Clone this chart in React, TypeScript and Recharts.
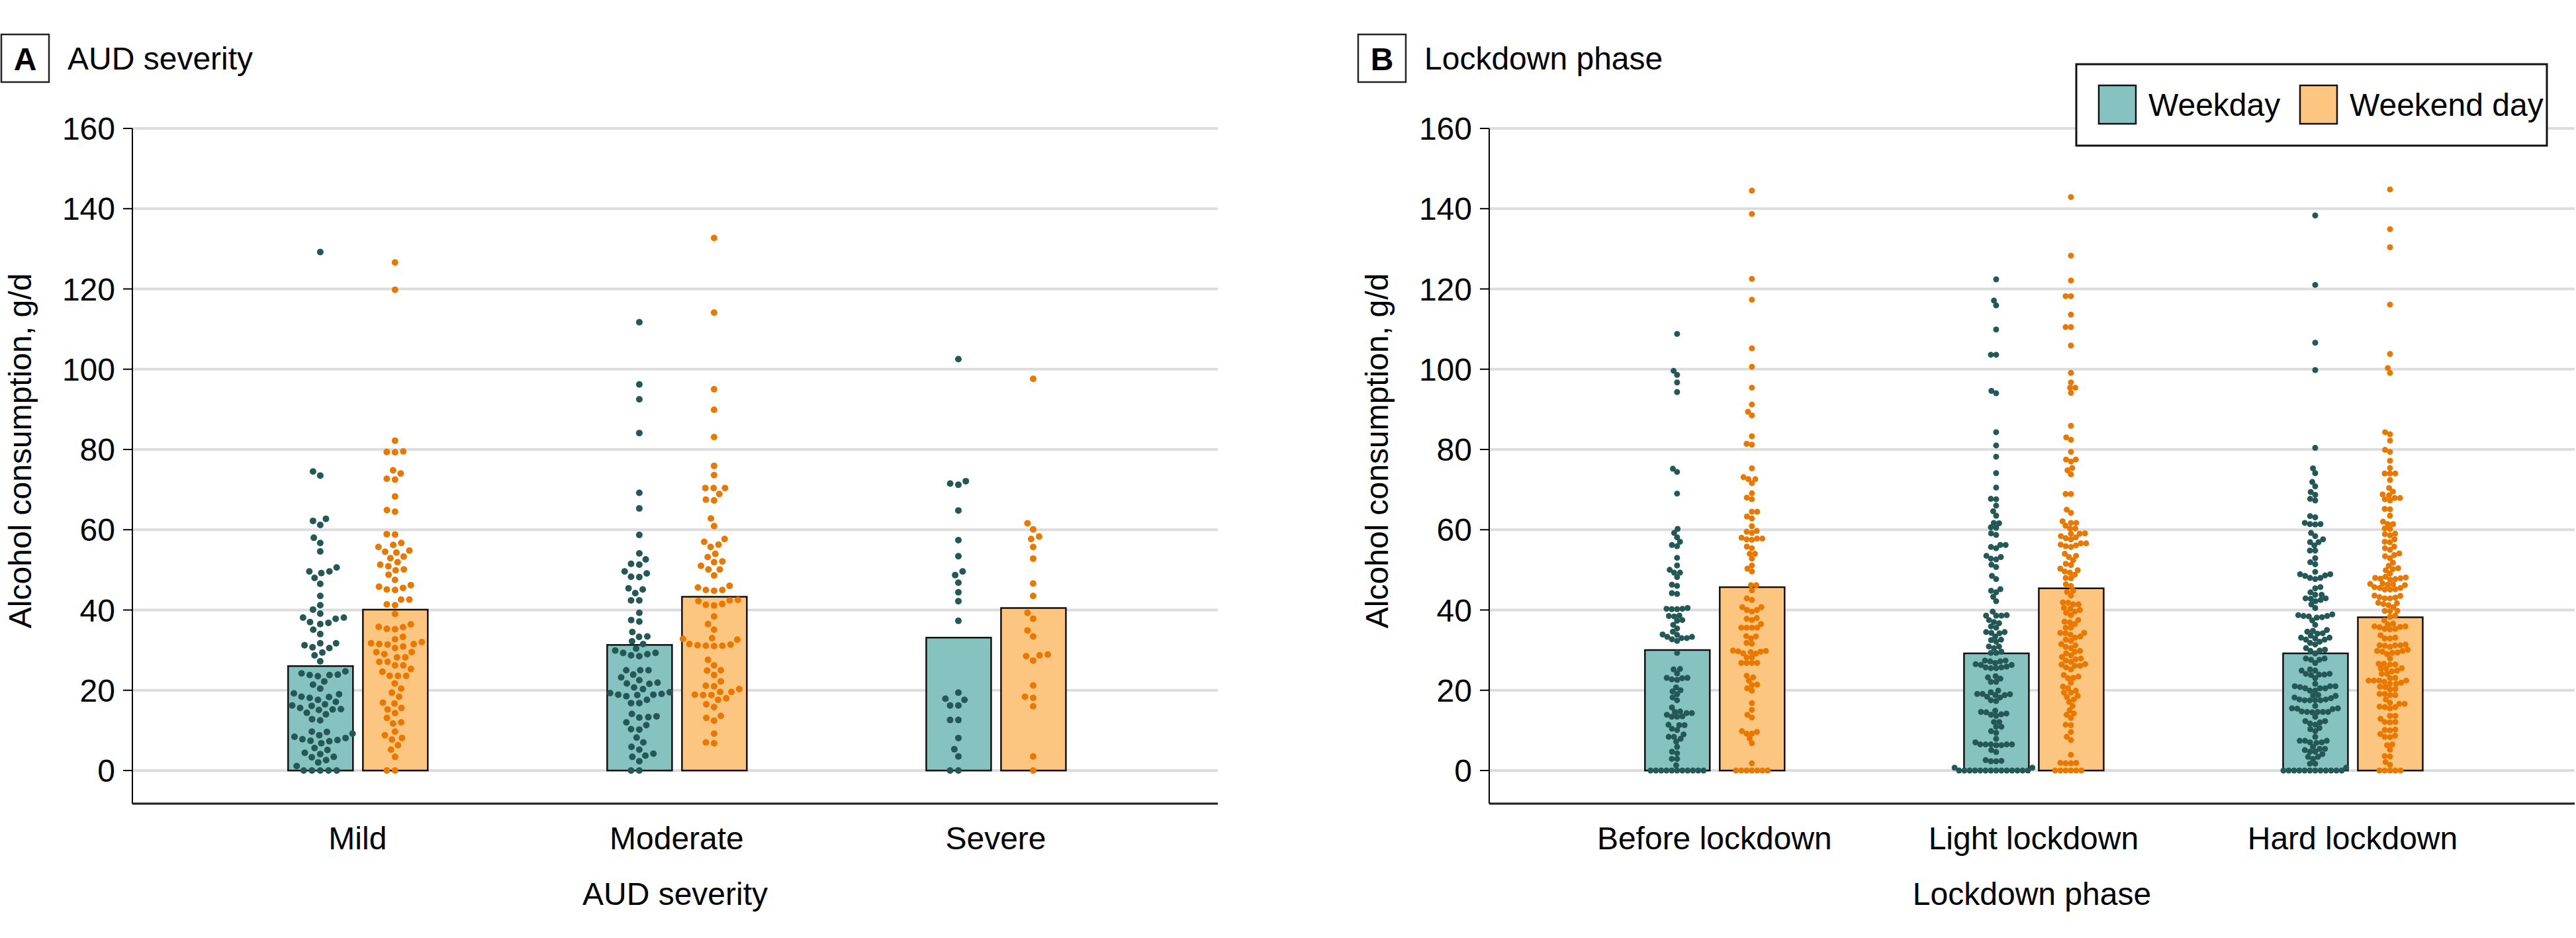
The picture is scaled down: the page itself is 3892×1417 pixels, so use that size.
import React from 'react';
import { ComposedChart, Bar, Scatter, XAxis, YAxis, CartesianGrid } from 'recharts';

// ---------------- data ----------------
const panelACategories = ['Mild', 'Moderate', 'Severe'];
const panelBCategories = ['Before lockdown', 'Light lockdown', 'Hard lockdown'];
const seriesNames = ['Weekday', 'Weekend day'];
const yTicks = [0, 20, 40, 60, 80, 100, 120, 140, 160];

const panelAWeekdayMeans = [26, 31.3, 33.1];
const panelAWeekendMeans = [40.1, 43.3, 40.5];
const panelBWeekdayMeans = [30, 29.2, 29.2];
const panelBWeekendMeans = [45.7, 45.4, 38.2];

const mildWeekday = [129.2, 74.5, 73.5, 62.7, 62.2, 61.2, 58, 56.7, 54.6, 50.6, 49.6, 49.2, 49.6, 48, 46.5, 43.5, 41.2, 40.1, 39.1, 38.1, 37, 36.5, 36.8, 37.8, 38.1, 35.1, 34, 31.7, 31.2, 30.7, 30.5, 31.7, 29.4, 28.7, 27.2, 24.7, 23.9, 23.5, 23.8, 23.8, 24.2, 22.2, 21.4, 20.4, 19.2, 19, 18.4, 18.1, 18.3, 17.6, 17.1, 16.5, 16.2, 16.1, 15.6, 15.2, 15.1, 15.3, 14.4, 14, 12.8, 12.5, 9.6, 9.7, 9.2, 8.8, 8.4, 8.1, 7.8, 7.4, 7.6, 7.3, 6.8, 5.6, 5.1, 4.4, 4.1, 3.3, 3.4, 2.6, 2, 1.1, 0, 0, 0, 0, 0];
const mildWeekend = [126.6, 119.8, 82.2, 79.4, 79.3, 79.5, 74.8, 74, 72.7, 72.5, 68.3, 64.9, 64.5, 58.9, 58.8, 56.7, 56.2, 55.7, 54.8, 54.5, 54.3, 53.3, 52.9, 51.9, 51.3, 50.9, 50.1, 49.9, 48.8, 47.5, 46.2, 45.8, 45.5, 45.1, 45, 42.6, 42.6, 41.4, 41.2, 39, 36.4, 35.8, 35.7, 35.3, 35.2, 33.3, 32.7, 32, 31.7, 31.5, 31.5, 31.4, 30.9, 30.5, 29.5, 29.5, 29, 28.2, 28.2, 27.1, 27.1, 26.2, 26.2, 25.3, 24.6, 23.6, 23.6, 23.6, 21.7, 20.4, 19.4, 18.4, 16.9, 16.7, 15.6, 15.2, 14.3, 13.1, 12, 11.7, 9.7, 8.8, 8.1, 7.7, 6.3, 5.2, 3.4, 0, 0];
const moderateWeekday = [111.7, 96.2, 92.5, 84.1, 69.2, 65.3, 58.7, 54.1, 52.6, 51.5, 51.3, 49.6, 49.1, 48.3, 48.2, 45.4, 45.1, 44.2, 42.4, 42.4, 39.3, 37.5, 37.1, 34.5, 33.4, 33.3, 32.2, 31.5, 30.4, 29.9, 29.3, 28.7, 28.5, 29, 29.3, 25, 25, 25, 23.9, 23.2, 22.5, 21.9, 21.6, 21.7, 20.7, 20.3, 19.5, 19.3, 18.9, 18.8, 18.5, 18.9, 19.1, 17.6, 16.8, 16.8, 14.1, 13.3, 13.2, 13.5, 12, 11.3, 10.3, 10.2, 8.2, 7, 5.9, 5.2, 4.2, 3.7, 3.4, 2.3, 0, 0];
const moderateWeekend = [132.7, 114.1, 95, 89.9, 83.1, 75.9, 73.6, 70.4, 70.4, 70.4, 68.9, 67.5, 67.3, 62.8, 60.9, 57.7, 57, 56.3, 55.7, 54, 53.2, 51.9, 52.1, 51, 50.1, 50.1, 48.6, 46, 45.6, 45, 44.8, 45, 42.2, 41.5, 41.1, 41.3, 42.4, 42.5, 38.4, 36.5, 35.1, 33, 32.6, 32.8, 31.5, 31.2, 31, 31.1, 31.1, 31.4, 27.6, 26.2, 24.9, 25, 23.8, 22.2, 21.1, 21, 20.3, 19.6, 19.6, 18.8, 18.9, 18.8, 18, 17.6, 16.5, 15.8, 13.6, 13.1, 12.4, 9.2, 7, 6.8];
const severeWeekday = [102.5, 72.1, 71.5, 71.2, 64.8, 57.4, 53.4, 49.6, 48.7, 46.8, 44.4, 42.2, 37.3, 19.4, 17.9, 17.6, 16.2, 16.2, 12.6, 12.6, 8.1, 5.3, 3.5, 0, 0];
const severeWeekend = [97.6, 61.6, 60.1, 58.3, 57.7, 55.7, 52.8, 46.6, 43.5, 39.3, 37.8, 34.9, 33.4, 28.9, 28.7, 28.5, 27.4, 21.2, 18.4, 18.1, 16, 3.5, 0];

const beforeWeekday = [108.8, 99.6, 98.6, 96.7, 94.3, 75.2, 74.4, 69, 60.2, 59.2, 58.1, 57, 56.2, 55.9, 53, 51.1, 50, 49.3, 49.3, 48.2, 46.3, 46, 44.2, 44, 40.5, 40.3, 40.2, 40.2, 40.3, 38.6, 38.5, 38.4, 37.5, 37.3, 36.3, 35.4, 34.6, 33.9, 33.8, 33.3, 33.3, 33, 33, 32.7, 32.3, 29.3, 25.3, 25.2, 24.2, 23.1, 23.1, 23, 22.7, 22.6, 20.7, 20, 19.7, 19, 18.2, 17.5, 15.7, 14.7, 14.6, 14.3, 14.3, 13.9, 13.5, 13.4, 13.4, 11.4, 11.3, 11.3, 10.4, 10.1, 9, 8.4, 8.4, 7.9, 7.2, 5.9, 4.7, 4.3, 2.9, 2.9, 1.3, 0, 0, 0, 0, 0, 0, 0, 0, 0, 0, 0];
const beforeWeekend = [144.5, 138.7, 122.5, 117.3, 105.2, 100.6, 95.4, 91.2, 89.4, 88.5, 83.3, 81.4, 81.2, 75.3, 73.1, 72.6, 72.6, 71.6, 69.1, 68, 67.6, 64.5, 64.5, 63.3, 62.8, 60.9, 59.7, 59.5, 59.2, 58, 57.8, 57.8, 57.6, 57.5, 55.8, 55.4, 54, 54, 52.8, 51.1, 50.3, 49.6, 46.2, 46.2, 44.9, 42.9, 42.5, 40.7, 40.7, 40, 40, 39.6, 38, 37.8, 37.5, 36.5, 35.6, 35.6, 35.6, 35.6, 33.5, 33.4, 32.9, 31.8, 31.6, 29.9, 29.8, 29.7, 29.6, 29.5, 29.2, 29.1, 28.2, 28.2, 26.8, 26.8, 26.8, 26.8, 23.6, 23.2, 22.4, 21.4, 21.3, 20.5, 19.9, 16.8, 15.1, 13.9, 13.2, 9.8, 9.6, 9.2, 9.2, 8, 6.8, 1.8, 0, 0, 0, 0, 0, 0, 0];
const lightWeekday = [122.4, 117.1, 115.9, 109.9, 103.6, 103.6, 94.6, 94, 84.3, 81, 78.2, 74.1, 70.5, 67.7, 67.6, 66, 64.6, 63.5, 61.7, 61.6, 60.6, 60.5, 59.1, 58.7, 56.2, 56.2, 55.7, 55.4, 53.5, 53.2, 52.8, 52.6, 51.3, 50.7, 48.5, 47.7, 45.2, 44.8, 44.4, 43.3, 42.2, 39.6, 38.7, 38.6, 38.6, 38.6, 37.5, 37, 36.7, 35.9, 35.6, 34.5, 34.5, 34.3, 34.2, 33.4, 32.6, 32.5, 32.1, 30.9, 30.9, 30.5, 29.6, 29.3, 29.3, 27.4, 27.2, 27.2, 27.4, 26.8, 26.3, 25.7, 25.5, 25.5, 25.7, 25.9, 26.3, 26.5, 23.5, 23.2, 22.9, 22.1, 22.1, 19.9, 19.5, 19.1, 19, 18.8, 18.8, 19.1, 18.4, 18.2, 17.5, 17.3, 14.6, 14.2, 13.9, 13.6, 14, 14.5, 14.9, 12.1, 12.1, 10.9, 10.9, 9.8, 9.4, 7.9, 7, 6.5, 6.5, 6.5, 6.5, 6.3, 6.5, 6.3, 5.1, 4.6, 2.6, 2.4, 2.3, 2.3, 0.7, 0.7, 0, 0, 0, 0, 0, 0, 0, 0, 0, 0, 0, 0, 0, 0];
const lightWeekend = [142.9, 128.3, 122.1, 118.2, 118.2, 113.6, 110.5, 110.5, 105.9, 99.1, 96.7, 95.4, 95.4, 94.1, 85.9, 83, 82.4, 79.4, 77.5, 77, 77.5, 75.4, 74.8, 73.8, 68.9, 68.9, 65, 64.2, 62.1, 61.7, 61.7, 61, 60.3, 60.3, 59, 59.1, 59, 58.4, 58.1, 57.9, 57.6, 56.6, 56.3, 56.6, 56.1, 55.9, 55.7, 54, 53.5, 53.2, 52.4, 51.5, 51.2, 50.3, 49.9, 49.6, 49.3, 48.8, 48, 47.9, 46.4, 46, 44.8, 44.5, 43.6, 41.8, 41.9, 41.4, 41.4, 40.5, 40, 40.3, 39.6, 39.3, 38.7, 37.5, 37.1, 36.5, 36.9, 35.6, 35.6, 34.3, 34.3, 34.2, 33.4, 33.8, 33.1, 32.6, 32.3, 31.5, 31.2, 30.8, 30.5, 29.8, 29.6, 29.2, 28.7, 28.3, 27.9, 27.7, 27.4, 27.1, 26.5, 26.4, 26.1, 26.1, 25.7, 25.2, 23.8, 23.4, 23.1, 23, 21.9, 20.9, 20.5, 19.9, 19.4, 19.4, 18.6, 18.3, 17.7, 17.1, 16.1, 15, 14.2, 13.9, 13.1, 11.4, 11.3, 9.6, 8.4, 7.6, 3.9, 1.9, 1.8, 1.9, 1.8, 0, 0, 0, 0, 0, 0];
const hardWeekday = [138.3, 121, 106.6, 99.8, 80.4, 75.3, 74.1, 71.9, 70.8, 69.4, 68.7, 67.7, 67.3, 63.4, 63.1, 61.7, 61.4, 61.3, 61.4, 59.2, 58.4, 57.6, 56.9, 56.9, 56.1, 54.8, 54.8, 52.9, 51.9, 51.4, 49.5, 48.9, 48.6, 48.5, 48.9, 48, 48, 47.7, 45.7, 45.4, 44.4, 43.8, 43.8, 42.9, 42.9, 42.5, 42.2, 42.8, 41.4, 40.5, 38.4, 38.5, 38.7, 38.1, 38.2, 38.5, 38.9, 37.4, 36.3, 35, 34.6, 34.1, 34.2, 34.8, 33.6, 32.6, 33.1, 32.9, 32.6, 32.1, 33.1, 31.4, 31.8, 30.5, 30.1, 29.9, 29.8, 29.2, 27.9, 27.6, 26.8, 27.6, 27.9, 24.9, 25.2, 24.1, 23.8, 24.9, 23, 23.9, 23.9, 24.1, 21, 20.5, 19.9, 21.6, 20.5, 20.8, 21, 20.5, 21, 19.9, 18.7, 18, 17.5, 17.5, 18.6, 17.7, 18.8, 17.5, 17.5, 17.7, 18.2, 15.5, 15.3, 14.6, 14.5, 16.1, 14.7, 15.5, 14.6, 14.6, 14.6, 15.4, 13.4, 12.3, 12, 11.4, 12.3, 11.7, 10.6, 10.3, 9.8, 8.4, 7.4, 7, 7.4, 7.4, 6.9, 7, 5.9, 5.4, 5.1, 5.4, 4.7, 4.7, 4.1, 3.4, 3.4, 2.9, 1.7, 1.7, 0.7, 0, 0, 0, 0, 0, 0, 0, 0, 0, 0, 0, 0];
const hardWeekend = [144.8, 134.9, 130.4, 116.1, 103.8, 100.3, 99.1, 84.3, 83.8, 82.2, 79.9, 79.4, 77.2, 75.4, 74, 74, 74, 72.4, 70.4, 69.5, 68.6, 68.8, 67.9, 67.3, 67.9, 67.6, 65.1, 65.2, 63.5, 62, 61.4, 61.4, 60.3, 60.2, 59, 58.6, 58.9, 57.6, 57, 56.9, 55.8, 55, 55.4, 54.1, 53.7, 53.4, 52.9, 51.8, 51, 49.9, 50.2, 50.4, 49.1, 48.3, 48.1, 48, 47.9, 47.8, 47.7, 47.6, 46.6, 46.5, 46.4, 46.3, 46.2, 45.1, 45.5, 45.1, 45.2, 45.7, 45.5, 43.6, 43.1, 42.9, 43.2, 43.5, 42.9, 41.5, 41.2, 40.7, 41.7, 41.8, 39.8, 39.7, 39.8, 38.6, 38.3, 37.4, 35.9, 35.3, 35.2, 35.8, 35.9, 36.4, 35.7, 35.3, 36.6, 32.9, 32.9, 33.1, 33.7, 31.4, 31.2, 31.1, 30.8, 31.2, 31.2, 29.8, 29.6, 29, 29.3, 29.4, 29.8, 30.1, 27.9, 26.6, 26.4, 26.4, 26.6, 25.4, 24.9, 24.1, 24.7, 24.1, 25.5, 25.4, 23.1, 22.4, 21.9, 22.4, 22.1, 22.4, 21.6, 21.6, 22.4, 23, 20.9, 20.3, 20.2, 20.8, 18.8, 19.1, 18.8, 17.7, 19.1, 16.9, 15.9, 15.5, 15.8, 15.8, 16.6, 16.6, 13.6, 12.9, 12, 12.1, 12.1, 13.6, 10.2, 10.1, 10, 8.3, 8.4, 8.7, 9.1, 6.5, 5.2, 6.3, 3.6, 3.5, 2.1, 1.4, 0, 0, 0, 0, 0];

// ---------------- layout constants ----------------
const FONT = "'Liberation Sans', Arial, sans-serif";
const TEAL = '#86C3C0';
const ORANGE = '#FDC680';
const TEAL_DOT = '#245856';
const ORANGE_DOT = '#E87800';
const PANEL_W = 1842;
const PANEL_H = 1417;
const PLOT_TOP = 194;
const PLOT_BOTTOM = 1214;
const Y_MIN = -8.25;
const Y_MAX = 160;
const PX_PER_UNIT = (PLOT_BOTTOM - PLOT_TOP) / (Y_MAX - Y_MIN);
const BAR_SIZE = 98;
const BAR_GAP = 15;
const SERIES_OFFSET = (BAR_SIZE + BAR_GAP) / 2;

// beeswarm layout (pixel offsets) computed from values
function swarm(values: number[], d: number): number[] {
  const order = values.map((_, i) => i).sort((a, b) => values[a] - values[b]);
  const placed: { x: number; y: number }[] = [];
  const out: number[] = new Array(values.length).fill(0);
  for (const i of order) {
    const y = values[i] * PX_PER_UNIT;
    const cands: number[] = [0];
    for (const p of placed) {
      const dy = Math.abs(p.y - y);
      if (dy < d) {
        const off = Math.sqrt(d * d - dy * dy);
        cands.push(p.x + off, p.x - off);
      }
    }
    cands.sort((a, b) => Math.abs(a) - Math.abs(b) || a - b);
    let chosen = 0;
    for (const c of cands) {
      let ok = true;
      for (const p of placed) {
        const dx = p.x - c;
        const dy = p.y - y;
        if (dx * dx + dy * dy < d * d - 0.01) { ok = false; break; }
      }
      if (ok) { chosen = c; break; }
    }
    placed.push({ x: chosen, y });
    out[i] = chosen;
  }
  return out;
}

function buildPoints(groups: number[][], d: number) {
  const pts: { x: number; y: number; dx: number }[] = [];
  groups.forEach((vals, gi) => {
    const dxs = swarm(vals, d);
    vals.forEach((v, k) => pts.push({ x: gi + 1, y: v, dx: dxs[k] }));
  });
  return pts;
}

type PanelProps = {
  left: number;
  letter: string;
  title: string;
  xTitle: string;
  categories: string[];
  weekdayMeans: number[];
  weekendMeans: number[];
  weekdayGroups: number[][];
  weekendGroups: number[][];
  dotR: number;
  dotD: number;
  legend?: boolean;
};

function Panel(props: PanelProps) {
  const { left, letter, title, xTitle, categories, weekdayMeans, weekendMeans, weekdayGroups, weekendGroups, dotR, dotD, legend } = props;
  const barData = categories.map((c, i) => ({ x: i + 1, name: c, weekday: weekdayMeans[i], weekend: weekendMeans[i] }));
  const wdPts = buildPoints(weekdayGroups, dotD);
  const wePts = buildPoints(weekendGroups, dotD);
  const makeShape = (color: string, off: number) => (p: any) => {
    if (p == null || p.cx == null || p.cy == null) return <g />;
    const dx = p.payload ? p.payload.dx : 0;
    return <circle cx={p.cx + dx + off} cy={p.cy} r={dotR} fill={color} />;
  };
  return (
    <div style={{ position: 'absolute', left, top: 0, width: PANEL_W, height: PANEL_H }}>
      <ComposedChart
        width={PANEL_W}
        height={PANEL_H}
        data={barData}
        barGap={BAR_GAP}
        margin={{ top: PLOT_TOP, right: 2, bottom: 63, left: 80 }}
      >
        <CartesianGrid vertical={false} stroke="#DCDCDC" strokeWidth={4} />
        <XAxis
          type="number"
          dataKey="x"
          domain={[0.294, 3.696]}
          ticks={[1, 2, 3]}
          allowDataOverflow
          interval={0}
          tickFormatter={(v: number) => categories[Math.round(v) - 1] ?? ''}
          tickLine={false}
          tickSize={0}
          tickMargin={35}
          height={140}
          axisLine={{ stroke: '#222', strokeWidth: 3 }}
          tick={{ fontSize: 48, fill: '#000', fontFamily: FONT }}
        />
        <YAxis
          type="number"
          domain={[Y_MIN, Y_MAX]}
          ticks={yTicks}
          allowDataOverflow
          interval={0}
          width={120}
          tickSize={14}
          tickMargin={12}
          tickLine={{ stroke: '#000', strokeWidth: 2 }}
          axisLine={{ stroke: '#000', strokeWidth: 2 }}
          tick={{ fontSize: 48, fill: '#000', fontFamily: FONT }}
        />
        <Bar dataKey="weekday" name={seriesNames[0]} fill={TEAL} stroke="#111" strokeWidth={2.5} barSize={BAR_SIZE} isAnimationActive={false} />
        <Bar dataKey="weekend" name={seriesNames[1]} fill={ORANGE} stroke="#111" strokeWidth={2.5} barSize={BAR_SIZE} isAnimationActive={false} />
        <Scatter data={wdPts} dataKey="y" shape={makeShape(TEAL_DOT, -SERIES_OFFSET)} isAnimationActive={false} />
        <Scatter data={wePts} dataKey="y" shape={makeShape(ORANGE_DOT, SERIES_OFFSET)} isAnimationActive={false} />
      </ComposedChart>
      <svg width={PANEL_W} height={PANEL_H} style={{ position: 'absolute', left: 0, top: 0, pointerEvents: 'none' }}>
        <rect x={2} y={52} width={72} height={72} fill="none" stroke="#222" strokeWidth={2.5} />
        <text x={38} y={106} textAnchor="middle" fontSize={48} fontWeight="bold" fontFamily={FONT} fill="#000">{letter}</text>
        <text x={102} y={105} fontSize={48} fontFamily={FONT} fill="#000">{title}</text>
        <text transform="translate(47,681) rotate(-90)" textAnchor="middle" fontSize={48} fontFamily={FONT} fill="#000">Alcohol consumption, g/d</text>
        <text x={1020} y={1367} textAnchor="middle" fontSize={48} fontFamily={FONT} fill="#000">{xTitle}</text>
        {legend && (
          <g>
            <rect x={1087} y={97} width={711} height={123} fill="#fff" stroke="#111" strokeWidth={3} />
            <rect x={1121} y={129} width={56} height={58} fill={TEAL} stroke="#111" strokeWidth={2.5} />
            <text x={1196} y={175} fontSize={48} fontFamily={FONT} fill="#000">{seriesNames[0]}</text>
            <rect x={1425} y={129} width={56} height={58} fill={ORANGE} stroke="#111" strokeWidth={2.5} />
            <text x={1500} y={175} fontSize={48} fontFamily={FONT} fill="#000">{seriesNames[1]}</text>
          </g>
        )}
      </svg>
    </div>
  );
}

export default function App() {
  return (
    <div style={{ position: 'relative', width: 3892, height: 1417, overflow: 'hidden', background: '#fff' }}>
      <style>{'body{margin:0;overflow:hidden;}'}</style>
      <Panel
        left={0}
        letter="A"
        title="AUD severity"
        xTitle="AUD severity"
        categories={panelACategories}
        weekdayMeans={panelAWeekdayMeans}
        weekendMeans={panelAWeekendMeans}
        weekdayGroups={[mildWeekday, moderateWeekday, severeWeekday]}
        weekendGroups={[mildWeekend, moderateWeekend, severeWeekend]}
        dotR={5}
        dotD={12.5}
      />
      <Panel
        left={2050}
        letter="B"
        title="Lockdown phase"
        xTitle="Lockdown phase"
        categories={panelBCategories}
        weekdayMeans={panelBWeekdayMeans}
        weekendMeans={panelBWeekendMeans}
        weekdayGroups={[beforeWeekday, lightWeekday, hardWeekday]}
        weekendGroups={[beforeWeekend, lightWeekend, hardWeekend]}
        dotR={4.5}
        dotD={8}
        legend
      />
    </div>
  );
}
